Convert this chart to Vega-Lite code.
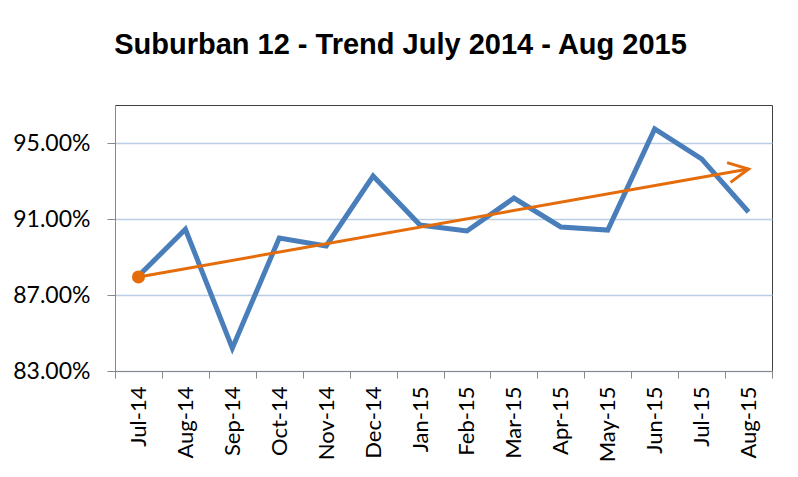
{
  "$schema": "https://vega.github.io/schema/vega-lite/v6.json",
  "autosize": {"type": "none"},
  "padding": {"left": 115, "top": 105, "right": 26, "bottom": 106},
  "width": 657,
  "height": 266,
  "background": "white",
  "title": {
    "text": "Suburban 12 - Trend July 2014 - Aug 2015",
    "font": "Liberation Sans",
    "fontWeight": "bold",
    "fontSize": 29,
    "color": "#000000",
    "anchor": "middle",
    "dx": -43,
    "offset": 45
  },
  "config": {
    "view": {"stroke": "#404040", "strokeWidth": 1},
    "axis": {"labelFont": "Lato", "labelFontSize": 23, "labelColor": "#000000"}
  },
  "datasets": {
    "main": [
      {"month": "Jul-14", "value": 0.8800},
      {"month": "Aug-14", "value": 0.9046},
      {"month": "Sep-14", "value": 0.8420},
      {"month": "Oct-14", "value": 0.9000},
      {"month": "Nov-14", "value": 0.8958},
      {"month": "Dec-14", "value": 0.9326},
      {"month": "Jan-15", "value": 0.9068},
      {"month": "Feb-15", "value": 0.9037},
      {"month": "Mar-15", "value": 0.9210},
      {"month": "Apr-15", "value": 0.9058},
      {"month": "May-15", "value": 0.9042},
      {"month": "Jun-15", "value": 0.9574},
      {"month": "Jul-15", "value": 0.9416},
      {"month": "Aug-15", "value": 0.9137}
    ],
    "trend": [
      {"month": "Jul-14", "value": 0.8795, "end": "start"},
      {"month": "Aug-15", "value": 0.9363, "end": "finish"}
    ]
  },
  "encoding": {
    "x": {
      "field": "month",
      "type": "nominal",
      "sort": null,
      "bandPosition": 0.5,
      "scale": {
        "type": "band",
        "paddingInner": 0,
        "paddingOuter": 0,
        "domain": ["Jul-14","Aug-14","Sep-14","Oct-14","Nov-14","Dec-14","Jan-15","Feb-15","Mar-15","Apr-15","May-15","Jun-15","Jul-15","Aug-15"]
      },
      "axis": {
        "title": null,
        "labelAngle": -90,
        "labelAlign": "right",
        "labelBaseline": "middle",
        "labelPadding": 8,
        "labelFontSize": 22,
        "tickBand": "extent",
        "tickSize": 7,
        "tickColor": "#888888",
        "domainColor": "#888888",
        "grid": false
      }
    },
    "y": {
      "field": "value",
      "type": "quantitative",
      "scale": {"domain": [0.83, 0.97], "nice": false, "zero": false},
      "axis": {
        "title": null,
        "values": [0.83, 0.87, 0.91, 0.95],
        "format": ".2%",
        "tickSize": 8,
        "tickColor": "#888888",
        "domainColor": "#888888",
        "labelPadding": 17,
        "gridColor": "#b9cde5",
        "gridWidth": 1.5
      }
    }
  },
  "layer": [
    {
      "data": {"name": "main"},
      "mark": {"type": "line", "color": "#4A7EBB", "strokeWidth": 5, "strokeJoin": "miter"}
    },
    {
      "data": {"name": "trend"},
      "mark": {"type": "line", "color": "#E46C0A", "strokeWidth": 3}
    },
    {
      "data": {"name": "trend"},
      "transform": [{"filter": "datum.end === 'start'"}],
      "mark": {"type": "point", "shape": "circle", "filled": true, "color": "#E46C0A", "size": 170, "opacity": 1}
    },
    {
      "data": {"name": "trend"},
      "transform": [{"filter": "datum.end === 'finish'"}],
      "mark": {"type": "point", "shape": "M -1 -0.5 L 0 0 L -1 0.5", "filled": false, "color": "#E46C0A", "strokeWidth": 3, "size": 1600, "angle": -10, "opacity": 1}
    }
  ]
}
